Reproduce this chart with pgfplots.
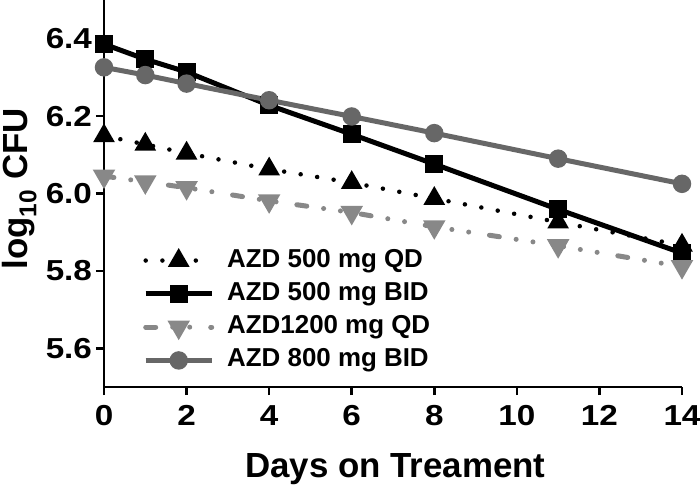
\documentclass[border=0pt]{standalone}
\usepackage{fontspec}
\setmainfont{Liberation Sans}
\usepackage{pgfplots}
\pgfplotsset{compat=1.18}
\definecolor{dgray}{HTML}{676767}
\definecolor{mgray}{HTML}{888888}
\begin{document}
\begin{tikzpicture}
\path[use as bounding box] (-104bp,-98bp) rectangle (596bp,387bp);
\begin{axis}[
  scale only axis, width=578bp, height=387bp,
  xmin=0, xmax=14, ymin=5.5, ymax=6.5,
  axis x line*=bottom, axis y line*=left,
  axis line style={line width=2.7bp, -},
  tick style={line width=2.7bp, black},
  tick align=outside, major tick length=8bp,
  xtick={0,2,...,14}, ytick={5.6,5.8,6.0,6.2,6.4},
  minor tick num=0,
  /pgf/number format/assume math mode=true,
  yticklabel style={/pgf/number format/.cd, fixed, fixed zerofill, precision=1},
  ticklabel style={font=\fontsize{29}{30}\selectfont\bfseries, xscale=1.15},
  xticklabel style={yshift=-7bp},
  xlabel={Days on Treament},
  ylabel={log\textsubscript{10} CFU},
  xlabel style={font=\fontsize{35}{36}\selectfont\bfseries, at={(axis description cs:0.504,-0.2326)}, anchor=base},
  ylabel style={font=\fontsize{35}{36}\selectfont\bfseries, at={(axis description cs:-0.1315,0.512)}, anchor=base},
  clip=false,
  legend image code/.code={\draw[mark repeat=2,mark phase=2,#1] plot coordinates {(0bp,0bp) (33bp,0bp) (66bp,0bp)};},
  legend style={draw=none, fill=none, at={(0.0675,0.357)}, anchor=north west,
    font=\fontsize{26}{28}\selectfont\bfseries, inner sep=0pt, column sep=13bp, row sep=10.3bp,
    nodes={inner sep=0pt, text height=18bp, text depth=5bp}},
  legend cell align=left,
]
\addplot[black, line width=4.5bp, line cap=round, dash pattern=on 0bp off 16.7bp,
  mark=triangle*, mark size=8bp, mark options={solid, fill=black}]
  coordinates {(0,6.149) (1,6.127) (2,6.104) (4,6.063) (6,6.028) (8,5.987) (11,5.926) (14,5.866)};
\addlegendentry{AZD 500 mg QD}
\addplot[black, line width=5bp,
  mark=square*, mark size=6.5bp, mark options={solid, fill=black}]
  coordinates {(0,6.386) (1,6.347) (2,6.314) (4,6.228) (6,6.153) (8,6.076) (11,5.959) (14,5.846)};
\addlegendentry{AZD 500 mg BID}
\addplot[mgray, line width=5bp, line cap=round, dash pattern=on 10bp off 17bp on 0bp off 17bp on 0bp off 21bp,
  mark=triangle*, mark size=8bp, mark options={solid, fill=mgray, rotate=180}]
  coordinates {(0,6.045) (1,6.030) (2,6.015) (4,5.981) (6,5.951) (8,5.914) (11,5.865) (14,5.811)};
\addlegendentry{AZD1200 mg QD}
\addplot[dgray, line width=5bp,
  mark=*, mark size=6.7bp, mark options={solid, fill=dgray}]
  coordinates {(0,6.326) (1,6.306) (2,6.284) (4,6.241) (6,6.199) (8,6.156) (11,6.090) (14,6.025)};
\addlegendentry{AZD 800 mg BID}
\end{axis}
\end{tikzpicture}
\end{document}
